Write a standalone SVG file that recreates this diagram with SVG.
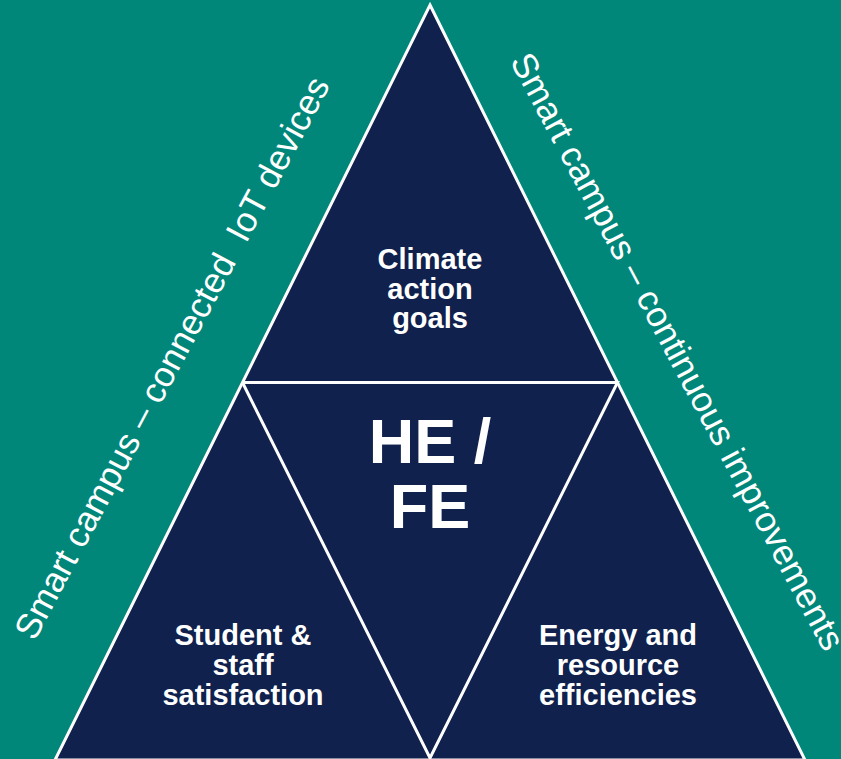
<svg xmlns="http://www.w3.org/2000/svg" width="841" height="759" viewBox="0 0 841 759">
<style>
.bg{fill:#00877A}
.tri{fill:#10214D;stroke:#FFFFFF;stroke-width:3;stroke-linejoin:miter}
.edge{stroke:#FFFFFF;stroke-width:3;fill:none}
.lbl{font-family:"Liberation Sans",Arial,sans-serif;font-weight:bold;font-size:29px;fill:#FFFFFF;text-anchor:middle}
.big{font-family:"Liberation Sans",Arial,sans-serif;font-weight:bold;font-size:63px;fill:#FFFFFF;text-anchor:middle}
.side{font-family:"Liberation Sans",Arial,sans-serif;font-size:35.4px;fill:#FFFFFF;text-anchor:middle}
</style>
<rect class="bg" x="0" y="0" width="841" height="759"/>
<g id="pyramid">
<polygon class="tri" points="430,5 805,760 55,760"/>
</g>
<g id="connectors">
<polyline class="edge" points="242.5,382.5 617.5,382.5 430,758 242.5,382.5"/>
</g>
<g id="top-node">
<text class="lbl" x="430" y="269">Climate</text>
<text class="lbl" x="430" y="298.5">action</text>
<text class="lbl" x="430" y="328">goals</text>
</g>
<g id="center-node">
<text class="big" x="430" y="463">HE /</text>
<text class="big" x="430" y="528">FE</text>
</g>
<g id="left-node">
<text class="lbl" x="243" y="645">Student &amp;</text>
<text class="lbl" x="243" y="675">staff</text>
<text class="lbl" x="243" y="705">satisfaction</text>
</g>
<g id="right-node">
<text class="lbl" x="618" y="645">Energy and</text>
<text class="lbl" x="618" y="675">resource</text>
<text class="lbl" x="618" y="705">efficiencies</text>
</g>
<g id="left-side-label">
<text class="side" transform="translate(182.5,363.5) rotate(-62)" xml:space="preserve">Smart campus – connected  IoT devices</text>
</g>
<g id="right-side-label">
<text class="side" transform="translate(667,357) rotate(62)">Smart campus – continuous improvements</text>
</g>
</svg>
